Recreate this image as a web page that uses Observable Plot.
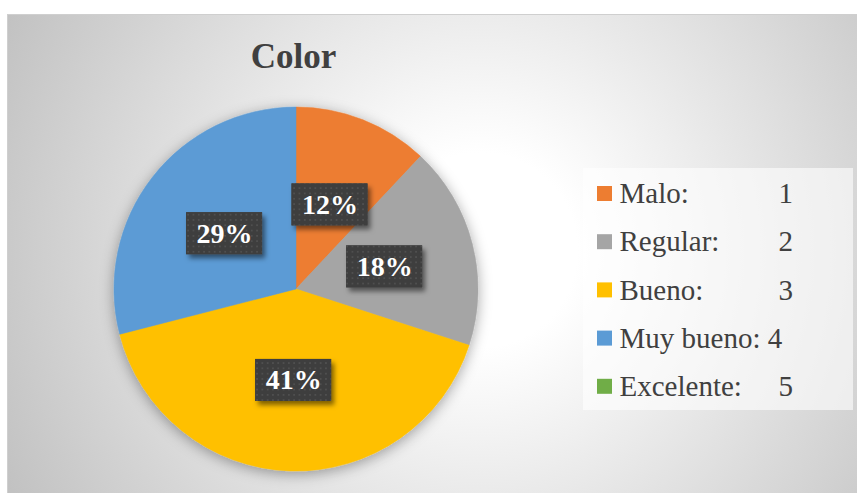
<!DOCTYPE html>
<html>
<head>
<meta charset="utf-8">
<script src="https://cdn.jsdelivr.net/npm/d3@7"></script>
<script src="https://cdn.jsdelivr.net/npm/@observablehq/plot@0.6"></script>
<style>
  html, body { margin: 0; padding: 0; background: #ffffff; overflow: hidden; }
  svg { display: block; }
</style>
</head>
<body>
<div id="chart"></div>
<script>
// ---- Data ----
const chartTitle = "Color";
const categories = ["Malo:", "Regular:", "Bueno:", "Muy bueno:", "Excelente:"];
const codes = ["1", "2", "3", "4", "5"];
const separators = ["\t", "\t", "\t", " ", "\t"];
const shares = [12, 18, 41, 29, 0];
const colors = ["#ED7D31", "#A5A5A5", "#FFC000", "#5B9BD5", "#70AD47"];

// ---- Layout ----
const W = 857, H = 493;
const cx = 296, cy = 289, R = 182, labelR = 91;
const legendX0 = 583, legendX1 = 853, legendY0 = 168, legendY1 = 410;
const rowY0 = 193.5, rowStep = 48.2, swatchX = 597, swatchSize = 15, textX = 619, tabX = 778;
const serif = "'Liberation Serif', 'Times New Roman', serif";

const rows = categories.map((cat, i) => ({cat, code: codes[i], sep: separators[i], share: shares[i], color: colors[i], i}));
const arcs = d3.pie().sort(null).value(d => d.share)(rows);

const labels = arcs.filter(a => a.data.share > 0).map(a => {
  const t = (a.startAngle + a.endAngle) / 2;
  return {text: a.data.share + "%", x: cx + labelR * Math.sin(t), y: cy - labelR * Math.cos(t)};
});

const ctx = document.createElement("canvas").getContext("2d");
ctx.font = "29px 'Liberation Serif'";
const legendRows = rows.map(r => ({
  ...r,
  y: rowY0 + r.i * rowStep,
  numX: r.sep === "\t" ? tabX : textX + ctx.measureText(r.cat + r.sep).width
}));

// Pie wedges drawn through Plot's x/y scales
function pieMark(index, scales) {
  const px = scales.x(cx), py = scales.y(cy);
  const pr = scales.x(cx + R) - scales.x(cx);
  const arcGen = d3.arc().innerRadius(0).outerRadius(pr);
  const g = d3.create("svg:g").attr("transform", `translate(${px},${py})`).attr("filter", "url(#pieShadow)");
  g.selectAll("path").data(arcs.filter(a => a.endAngle > a.startAngle)).join("path")
    .attr("d", arcGen)
    .attr("fill", a => scales.color ? scales.color(a.data.color) : a.data.color)
    .attr("stroke", a => a.data.color)
    .attr("stroke-width", 0.5);
  return g.node();
}

function withFilter(id) {
  return function (index, scales, values, dimensions, context, next) {
    const g = next(index, scales, values, dimensions, context);
    g.setAttribute("filter", `url(#${id})`);
    return g;
  };
}

const plot = Plot.plot({
  width: W,
  height: H,
  margin: 0,
  x: {domain: [0, W], range: [0, W], axis: null},
  y: {domain: [0, H], range: [0, H], axis: null},
  color: {type: "identity"},
  style: {background: "transparent"},
  marks: [
    pieMark,
    Plot.rect(labels, {x1: d => d.x - 38, x2: d => d.x + 38, y1: d => d.y - 21, y2: d => d.y + 21, fill: "#3e3e3e", render: withFilter("boxShadow")}),
    Plot.rect(labels, {x1: d => d.x - 38, x2: d => d.x + 38, y1: d => d.y - 21, y2: d => d.y + 21, fill: "#3e3e3e",
      render(index, scales, values, dimensions, context, next) {
        const g = next(index, scales, values, dimensions, context);
        g.setAttribute("fill", "url(#dots)");
        g.querySelectorAll("rect").forEach(r => r.setAttribute("fill", "url(#dots)"));
        return g;
      }}),
    Plot.text(labels, {x: "x", y: "y", text: "text", fill: "#ffffff", fontSize: 28, fontWeight: "bold", fontFamily: serif, textAnchor: "middle"}),
    Plot.text([chartTitle], {x: () => 293, y: () => 56, text: d => d, fill: "#404040", fontSize: 35, fontWeight: "bold", fontFamily: serif, textAnchor: "middle"}),
    Plot.rect([0], {x1: () => legendX0, x2: () => legendX1, y1: () => legendY0, y2: () => legendY1, fill: "#ffffff", fillOpacity: 0.6}),
    Plot.rect(legendRows, {x1: () => swatchX, x2: () => swatchX + swatchSize, y1: d => d.y - swatchSize / 2, y2: d => d.y + swatchSize / 2, fill: "color"}),
    Plot.text(legendRows, {x: () => textX, y: "y", text: "cat", fill: "#404040", fontSize: 29, fontFamily: serif, textAnchor: "start"}),
    Plot.text(legendRows, {x: "numX", y: "y", text: "code", fill: "#404040", fontSize: 29, fontFamily: serif, textAnchor: "start"})
  ]
});

document.getElementById("chart").appendChild(plot);

// ---- Decorations: background gradient, shadows, dotted label fill ----
const svg = d3.select(plot);
const defs = svg.insert("defs", ":first-child");
const grad = defs.append("radialGradient").attr("id", "bg").attr("gradientUnits", "userSpaceOnUse")
  .attr("cx", 480).attr("cy", 250).attr("r", 540);
grad.append("stop").attr("offset", 0).attr("stop-color", "#ffffff");
grad.append("stop").attr("offset", 0.18).attr("stop-color", "#ffffff");
grad.append("stop").attr("offset", 1).attr("stop-color", "#c0c0c0");

const ps = defs.append("filter").attr("id", "pieShadow").attr("x", "-20%").attr("y", "-20%").attr("width", "140%").attr("height", "140%");
ps.append("feDropShadow").attr("dx", 0).attr("dy", 3).attr("stdDeviation", 7).attr("flood-color", "#000").attr("flood-opacity", 0.35);

const bs = defs.append("filter").attr("id", "boxShadow").attr("x", "-30%").attr("y", "-30%").attr("width", "160%").attr("height", "160%");
bs.append("feDropShadow").attr("dx", 3).attr("dy", 4).attr("stdDeviation", 2.5).attr("flood-color", "#000").attr("flood-opacity", 0.5);

const pat = defs.append("pattern").attr("id", "dots").attr("patternUnits", "userSpaceOnUse").attr("width", 5.3).attr("height", 5.3);
pat.append("rect").attr("width", 5.3).attr("height", 5.3).attr("fill", "#3e3e3e");
pat.append("circle").attr("cx", 2.65).attr("cy", 2.65).attr("r", 0.9).attr("fill", "#545454");

const bgRect = document.createElementNS("http://www.w3.org/2000/svg", "rect");
d3.select(bgRect).attr("x", 7.5).attr("y", 14.5).attr("width", W).attr("height", H).attr("fill", "url(#bg)").attr("stroke", "#cfcfcf");
plot.insertBefore(bgRect, defs.node().nextSibling);
</script>
</body>
</html>
